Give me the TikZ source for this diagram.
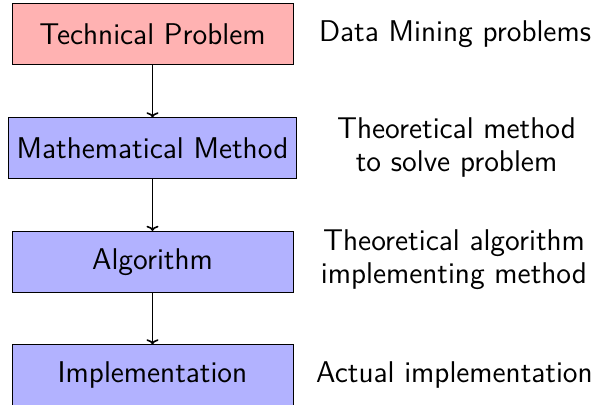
\documentclass[tikz,border=0pt]{standalone}
\usetikzlibrary{positioning,arrows.meta}
\begin{document}
\begin{tikzpicture}[x=1pt,y=1pt,
  every node/.style={font=\sffamily\fontsize{15}{16.5}\selectfont},
  stage/.style={draw=black, line width=0.5pt, minimum width=140.5pt, minimum height=30.5pt, inner sep=4pt},
  probbox/.style={stage, fill=red!30},
  methbox/.style={stage, fill=blue!30},
  note/.style={align=center},
  flow/.style={-{To[width=6pt,length=2.6pt]}, line width=0.8pt}]
  \useasboundingbox (0,0) rectangle (298,202.5);
  % left column: chain of stages
  \node[probbox] (tech) at (76.25,185.25) {Technical Problem};
  \node[methbox] (math) at (76.25,128.25) {Mathematical Method};
  \node[methbox] (algo) at (76.25,71.5) {Algorithm};
  \node[methbox] (impl) at (76.25,14.75) {Implementation};
  \draw[flow] (tech) -- (math);
  \draw[flow] (math) -- (algo);
  \draw[flow] (algo) -- (impl);
  % right column: descriptions
  \node[note] (dtech) at (227.5,185.25) {Data Mining problems};
  \node[note] (dmath) at (228.25,128.75) {Theoretical method\\to solve problem};
  \node[note] (dalgo) at (227,72.5) {Theoretical algorithm\\implementing method};
  \node[note] (dimpl) at (227.25,15) {Actual implementation};
\end{tikzpicture}
\end{document}
